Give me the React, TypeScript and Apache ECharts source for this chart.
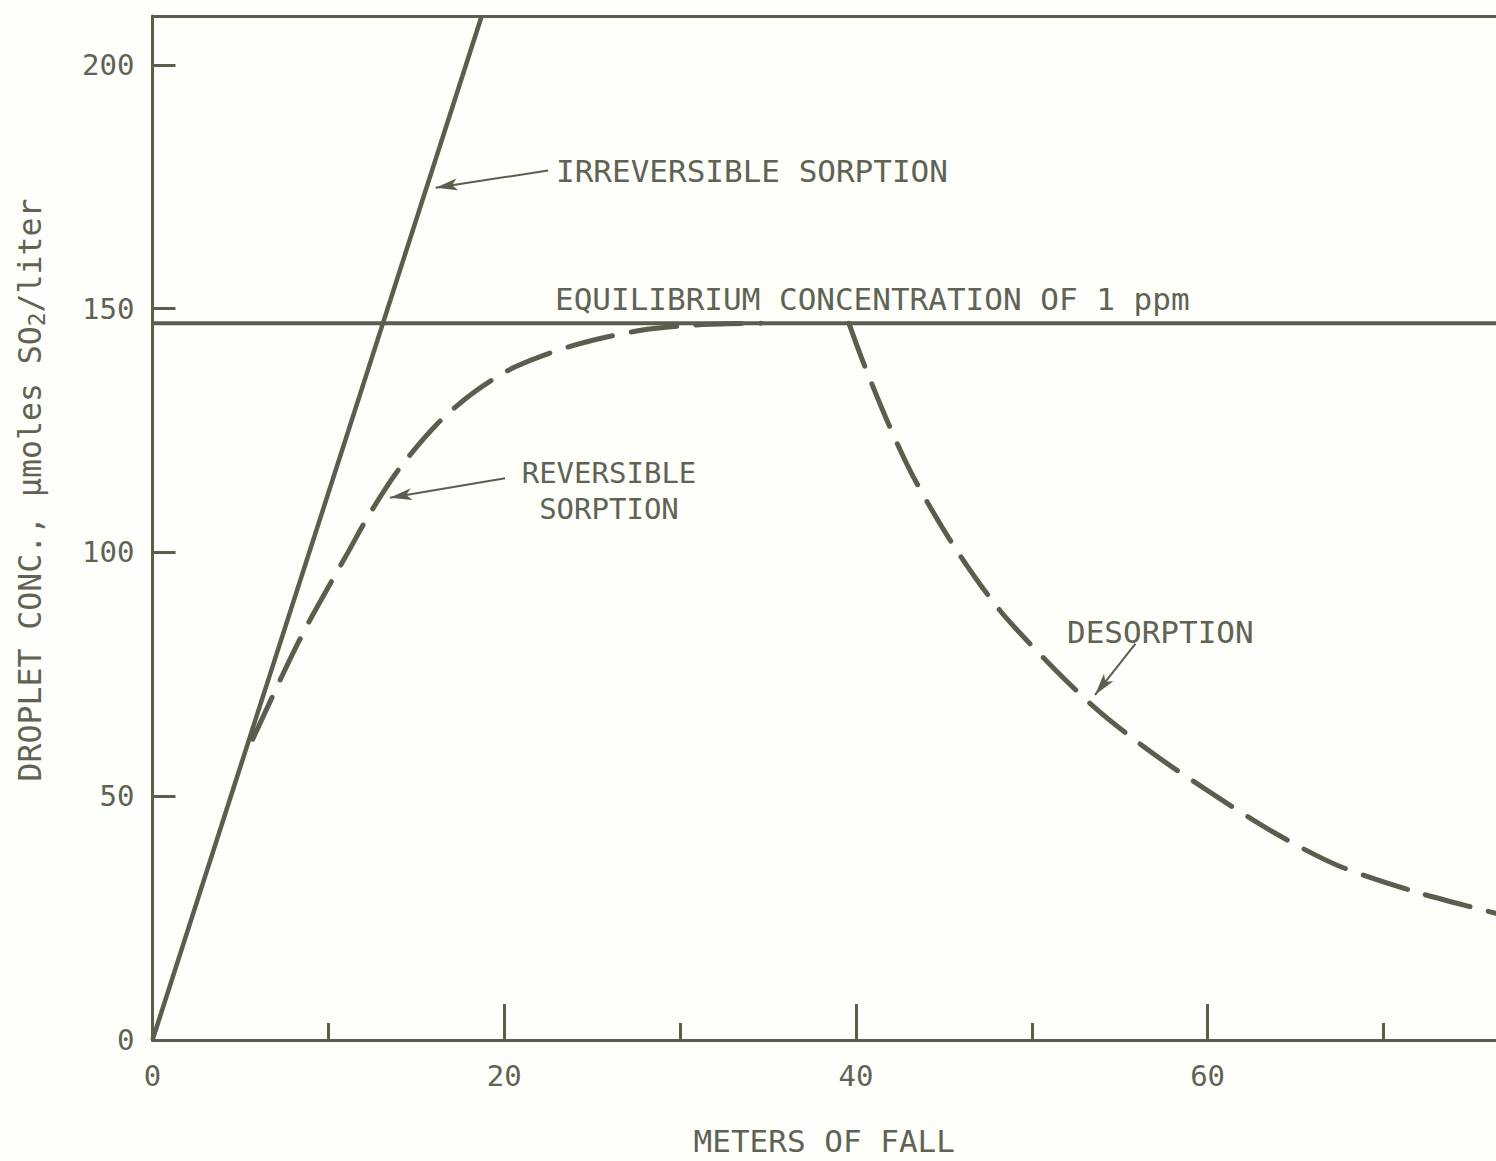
import React, { useEffect, useRef } from "react";
import * as echarts from "echarts";

// Axis ranges and ticks
const xMin = 0;
const xMax = 76.4;
const yMin = 0;
const yMax = 210;
const xLabelValues = [0, 20, 40, 60];
const xMajorTicks = [20, 40, 60];
const xMinorTicks = [10, 30, 50, 70];
const yLabelValues = [0, 50, 100, 150, 200];
const yTickValues = [50, 100, 150, 200];

// Irreversible sorption (straight line)
const irreversibleX = [0, 18.72];
const irreversibleY = [0, 210];

// Equilibrium concentration of 1 ppm
const equilibriumX = [0, 76.4];
const equilibriumY = [147, 147];

// Reversible sorption (dashed)
const reversibleX = [5.7, 7.4, 8.8, 11.1, 12.3, 14.0, 16.2, 18.3, 20.6, 23.9, 27.7, 31.1, 34.6];
const reversibleY = [61.7, 74.9, 85.1, 99.9, 107.6, 117.0, 126.4, 132.9, 138.0, 142.4, 145.5, 146.7, 147.0];

// Desorption (dashed)
const desorptionX = [39.6, 40.35, 41.8, 43.25, 45.5, 48.1, 50.8, 53.7, 56.8, 59.85, 63.7, 67.4, 71.7, 75.6, 76.4];
const desorptionY = [147.0, 139.6, 126.8, 115.6, 101.7, 88.5, 77.9, 67.8, 59.0, 51.5, 42.7, 35.8, 30.5, 26.7, 26.0];

// Annotation arrows: [tailX, tailY, tipX, tipY]
const arrows = [
  [22.5, 178.3, 16.1, 174.8],
  [20.05, 115.2, 13.5, 111.2],
  [55.9, 81.3, 53.6, 70.8],
];

const INK = "#5a5e4f";
const TEXT = "#5f6354";
const FONT = "DejaVu Sans Mono";

const zip = (xs: number[], ys: number[]) => xs.map((x, i) => [x, ys[i]]);

export default function App() {
  const ref = useRef<HTMLDivElement>(null);
  useEffect(() => {
    if (!ref.current) return;
    const chart = echarts.init(ref.current, undefined, { renderer: "svg" });
    const baseX = {
      type: "value",
      min: xMin,
      max: xMax,
      splitLine: { show: false },
    };
    const label = (text: string, x: number, y: number, align = "left", size = 31) => ({
      type: "text",
      x,
      y,
      style: { text, fontFamily: FONT, fontSize: size, fill: TEXT, align, verticalAlign: "middle" },
    });
    chart.setOption({
      animation: false,
      backgroundColor: "#fefefa",
      grid: { left: 152.5, right: 0, top: 16, bottom: 113 },
      xAxis: [
        {
          ...baseX,
          position: "bottom",
          name: "METERS OF FALL",
          nameLocation: "middle",
          nameGap: 85,
          nameTextStyle: { fontFamily: FONT, fontSize: 31, color: TEXT },
          axisLine: { show: true, onZero: false, lineStyle: { color: INK, width: 3 } },
          axisTick: { show: true, inside: true, length: 36, customValues: xMajorTicks, lineStyle: { color: INK, width: 3 } },
          axisLabel: { show: true, customValues: xLabelValues, margin: 21, fontFamily: FONT, fontSize: 29, color: TEXT },
        },
        {
          ...baseX,
          position: "bottom",
          axisLine: { show: false },
          axisTick: { show: true, inside: true, length: 17, customValues: xMinorTicks, lineStyle: { color: INK, width: 3 } },
          axisLabel: { show: false },
        },
        {
          ...baseX,
          position: "top",
          axisLine: { show: true, onZero: false, lineStyle: { color: INK, width: 3 } },
          axisTick: { show: false },
          axisLabel: { show: false },
        },
      ],
      yAxis: {
        type: "value",
        min: yMin,
        max: yMax,
        splitLine: { show: false },
        axisLine: { show: true, onZero: false, lineStyle: { color: INK, width: 3 } },
        axisTick: { show: true, inside: true, length: 23, customValues: yTickValues, lineStyle: { color: INK, width: 3 } },
        axisLabel: { show: true, customValues: yLabelValues, margin: 18, fontFamily: FONT, fontSize: 29, color: TEXT },
      },
      series: [
        {
          type: "line",
          name: "Irreversible sorption",
          data: zip(irreversibleX, irreversibleY),
          showSymbol: false,
          lineStyle: { color: INK, width: 4.5 },
        },
        {
          type: "line",
          name: "Equilibrium concentration",
          data: zip(equilibriumX, equilibriumY),
          showSymbol: false,
          lineStyle: { color: INK, width: 4 },
          markLine: {
            silent: true,
            symbol: ["none", "arrow"],
            symbolSize: [9, 22],
            label: { show: false },
            lineStyle: { color: INK, width: 2, type: "solid" },
            data: arrows.map((a) => [{ coord: [a[0], a[1]] }, { coord: [a[2], a[3]] }]),
          },
        },
        {
          type: "line",
          name: "Reversible sorption",
          data: zip(reversibleX, reversibleY),
          showSymbol: false,
          smooth: 0.3,
          lineStyle: { color: INK, width: 5, type: [46, 19], cap: "round" },
        },
        {
          type: "line",
          name: "Desorption",
          data: zip(desorptionX, desorptionY),
          showSymbol: false,
          smooth: 0.3,
          lineStyle: { color: INK, width: 5, type: [46, 19], cap: "round" },
        },
      ],
      graphic: [
        label("IRREVERSIBLE SORPTION", 556, 171),
        label("EQUILIBRIUM CONCENTRATION OF 1 ppm", 555, 299),
        label("REVERSIBLE", 609, 473, "center", 29),
        label("SORPTION", 609, 509, "center", 29),
        label("DESORPTION", 1067, 632),
        {
          type: "text",
          x: 30,
          y: 490,
          rotation: Math.PI / 2,
          style: {
            text: "DROPLET CONC., \u03bcmoles SO{sub|2}/liter",
            fontFamily: FONT,
            fontSize: 31.5,
            fill: TEXT,
            align: "center",
            verticalAlign: "middle",
            rich: {
              sub: { fontFamily: FONT, fontSize: 23, fill: TEXT, padding: [14, 0, 0, 0] },
            },
          },
        },
      ],
    });
    return () => chart.dispose();
  }, []);
  return (
    <div
      ref={ref}
      style={{ position: "absolute", left: 0, top: 0, width: 1496, height: 1161 }}
    />
  );
}
